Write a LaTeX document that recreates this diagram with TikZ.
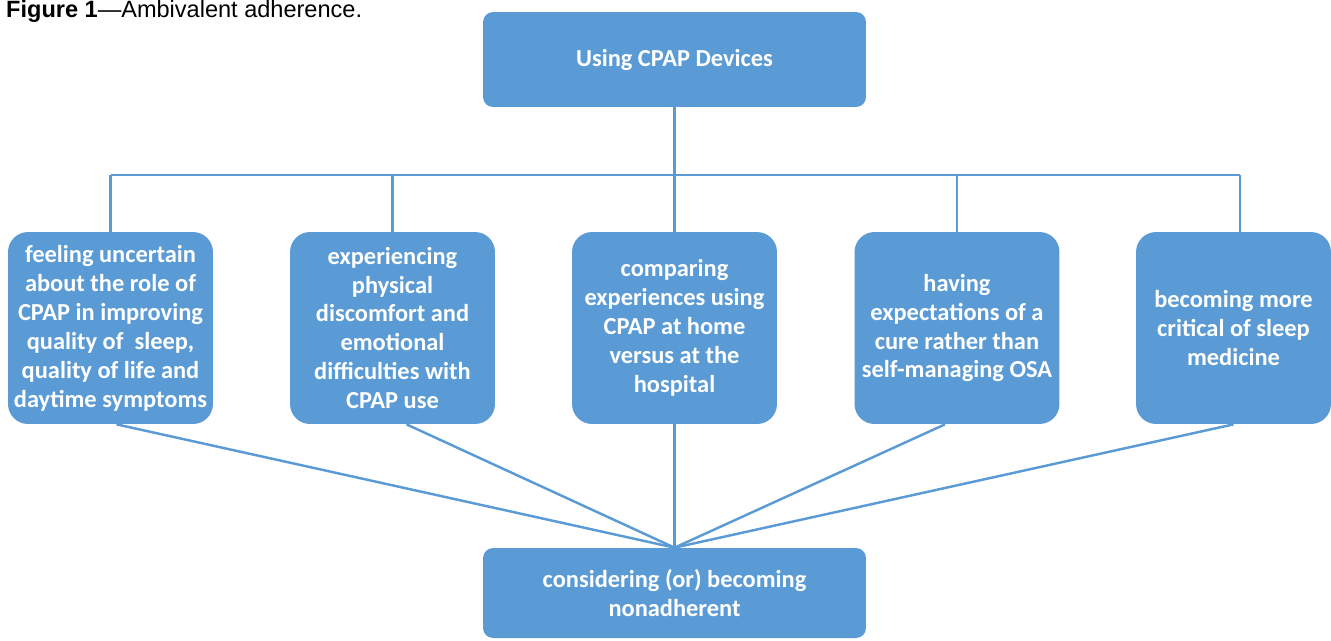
\documentclass[tikz,border=0pt]{standalone}
\usepackage{fontspec}
\setmainfont{Carlito}
\newfontfamily\capfont{Liberation Sans}
\usetikzlibrary{positioning}
\definecolor{officeblue}{HTML}{5B9BD5}

\begin{document}
\begin{tikzpicture}[x=0.02cm,y=-0.02cm,
    box/.style={fill=officeblue,rounded corners=0.4cm,text=white,align=center,
      font=\fontsize{13.9}{16.5}\selectfont\bfseries,inner sep=0pt},
    theme/.style={box,minimum width=4.1cm,minimum height=3.84cm},
    wide/.style={box,rounded corners=0.2cm,minimum width=7.66cm,minimum height=1.9cm},
    link/.style={draw=officeblue,line width=1.4pt}]
    \useasboundingbox (0,0) rectangle (1331,640);
    \node[anchor=base west,font=\capfont\fontsize{13.4}{16}\selectfont] (cap) at (0,17)
      {\textbf{Figure 1}\textemdash Ambivalent adherence.};
    \node[wide] (use) at (674.5,59.5) {Using CPAP Devices};
    \node[wide,minimum height=1.8cm] (nonadh) at (674.5,593) {considering (or) becoming\\nonadherent};
    \node[theme] (t1) at (110.5,328) {feeling uncertain\\about the role of\\CPAP in improving\\quality of~ sleep,\\quality of life and\\daytime symptoms};
    \node[theme] (t2) at (392.5,328) {experiencing\\physical\\discomfort and\\emotional\\difficulties with\\CPAP use};
    \node[theme] (t3) at (674.5,328) {comparing\\experiences using\\CPAP at home\\versus at the\\hospital};
    \node[theme] (t4) at (957,328) {having\\expectations of a\\cure rather than\\self-managing OSA};
    \node[theme,minimum width=3.9cm] (t5) at (1233.5,328) {becoming more\\critical of sleep\\medicine};
    % tree from the top box
    \coordinate (bus) at (674.5,175);
    \coordinate (bus5) at (1240,175);
    \draw[link] (use.south) -- (bus);
    \draw[link] (t1.north |- bus) -- (bus5);
    \foreach \i in {1,...,4}
      \draw[link] (t\i.north) -- (t\i.north |- bus);
    \draw[link] (bus5) -- (bus5 |- t5.north);
    % fan into the bottom box
    \foreach \i/\dx in {1/6,2/14,3/0,4/-12,5/0}
      \draw[link] ([xshift=\dx*0.02cm]t\i.south) -- (nonadh.north);
\end{tikzpicture}
\end{document}
